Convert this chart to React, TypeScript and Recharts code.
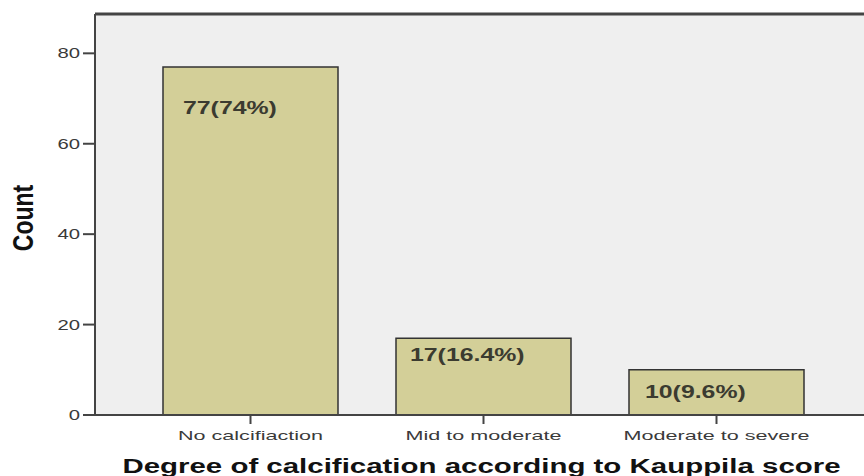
import React from "react";
import { BarChart, Bar, XAxis, YAxis, CartesianGrid, LabelList, ReferenceLine } from "recharts";

const CATEGORIES = ["No calcifiaction", "Mid to moderate", "Moderate to severe"];
const COUNTS = [77, 17, 10];
const BAR_LABELS = ["77(74%)", "17(16.4%)", "10(9.6%)"];
const Y_TICKS = [0, 20, 40, 60, 80];
const Y_MAX = 88.7;

const data = CATEGORIES.map((c, i) => ({ name: c, count: COUNTS[i], label: BAR_LABELS[i] }));

const FONT = "'Liberation Sans', Arial, sans-serif";

const YTick = (props: any) => {
  const { x, y, payload } = props;
  return (
    <text transform={`translate(${x},${y}) scale(1.45,1)`} textAnchor="end" dy="0.36em" fontSize={14} fill="#3a3a3a" fontFamily={FONT}>
      {payload.value}
    </text>
  );
};

const XTick = (props: any) => {
  const { x, y, payload } = props;
  return (
    <text transform={`translate(${x},${y}) scale(1.66,1)`} textAnchor="middle" dy="0.71em" fontSize={13} fill="#3a3a3a" fontFamily={FONT}>
      {payload.value}
    </text>
  );
};

const LABEL_NUDGE = [
  { dx: 20, dy: 34 },
  { dx: 14, dy: 10 },
  { dx: 16, dy: 15 },
];

const BarLabel = (props: any) => {
  const { x, y, index, value } = props;
  const n = LABEL_NUDGE[index] || { dx: 16, dy: 12 };
  return (
    <text transform={`translate(${x + n.dx},${y + n.dy + 13}) scale(1.38,1)`} textAnchor="start" fontSize={18} fontWeight="bold" fill="#3b3b30" fontFamily={FONT}>
      {value}
    </text>
  );
};

const XTitle = (props: any) => {
  const { viewBox } = props;
  const cx = viewBox.x + viewBox.width / 2;
  return (
    <text transform={`translate(${cx + 2},473) scale(1.51,1)`} textAnchor="middle" fontSize={19.5} fontWeight="bold" fill="#111" fontFamily={FONT}>
      Degree of calcification according to Kauppila score
    </text>
  );
};

const YTitle = () => (
  <text transform={`translate(33,218) scale(1.25,1) rotate(-90)`} textAnchor="middle" fontSize={23} fontWeight="bold" fill="#111" fontFamily={FONT}>
    Count
  </text>
);

export default function App() {
  return (
    <div style={{ position: "absolute", left: 0, top: 0, width: 864, height: 476, background: "#fff" }}>
      <BarChart width={864} height={476} data={data} margin={{ top: 14, right: 0, bottom: 0, left: 0 }}>
        <CartesianGrid fill="#efefef" horizontal={false} vertical={false} stroke="none" />
        <XAxis
          dataKey="name"
          height={61}
          padding={{ left: 39, right: 31 }}
          tickSize={9}
          tickMargin={7}
          tick={<XTick />}
          axisLine={{ stroke: "#444", strokeWidth: 2 }}
          tickLine={{ stroke: "#444", strokeWidth: 2 }}
          label={{ content: <XTitle /> } as any}
        />
        <YAxis
          width={95}
          domain={[0, Y_MAX]}
          ticks={Y_TICKS}
          tickSize={12}
          tickMargin={3}
          tick={<YTick />}
          axisLine={{ stroke: "#444", strokeWidth: 2 }}
          tickLine={{ stroke: "#444", strokeWidth: 2 }}
          label={{ content: <YTitle /> } as any}
        />
        <ReferenceLine y={Y_MAX} stroke="#444" strokeWidth={3} />
        <Bar dataKey="count" barSize={175} fill="#d3cf98" stroke="#333" strokeWidth={1.5} isAnimationActive={false}>
          <LabelList dataKey="label" content={<BarLabel />} />
        </Bar>
      </BarChart>
    </div>
  );
}
